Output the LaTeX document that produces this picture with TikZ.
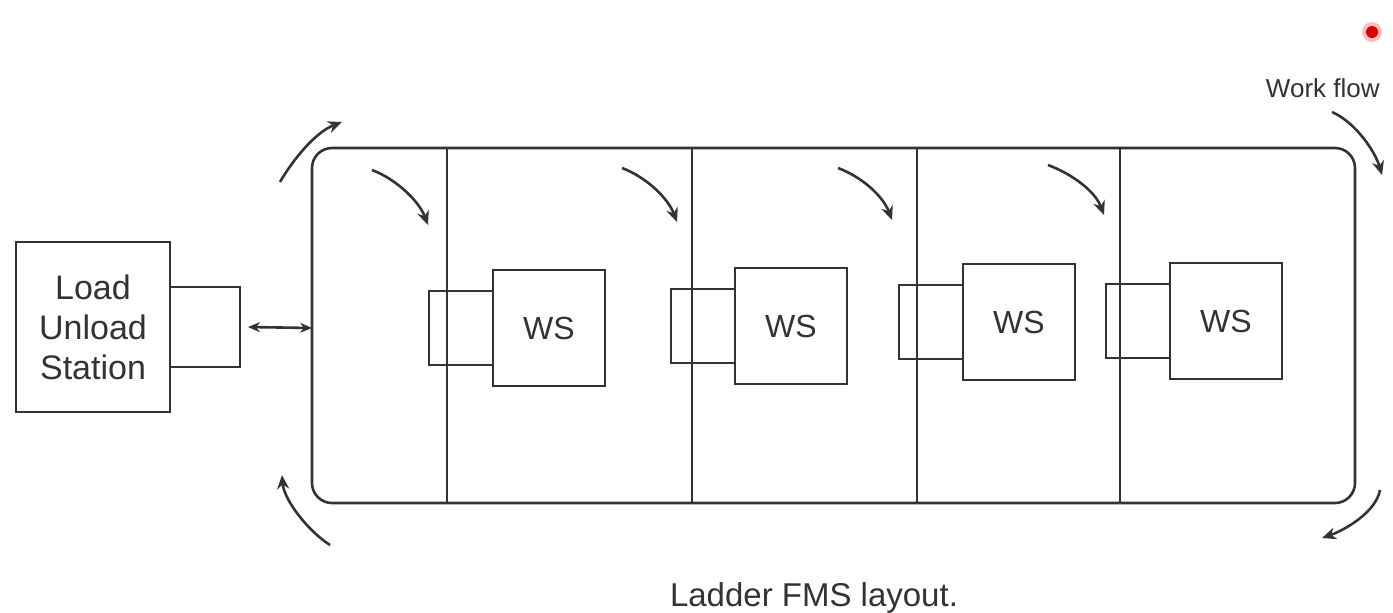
\documentclass[tikz,border=0pt]{standalone}
\usepackage{fontspec}
\setmainfont{Liberation Sans}
\usetikzlibrary{positioning, arrows.meta}

\tikzset{
	box/.style={draw, outer sep=0pt, inner sep=0pt},
	wsbox/.style={box, minimum width=56pt, minimum height=58pt, font=\fontsize{16}{18}\selectfont},
	portbox/.style={box, minimum width=32pt, minimum height=37pt},
	flow/.style={-{Stealth[length=7pt,width=6pt]}}
}

\begin{document}
\begin{tikzpicture}[x=0.5pt, y=-0.5pt, line width=1.3pt, color=black!80]
				\useasboundingbox (0,0) rectangle (1393,612);
				% ladder rails
				\draw[rounded corners=10pt] (312,148) rectangle (1355,503);
				\foreach \x in {447,692,917,1120}
					\draw (\x,148) -- (\x,503);
				% load / unload station
				\node[box, minimum width=77pt, minimum height=85pt, align=center,
					font=\fontsize{17}{20}\selectfont] (lus) at (93,327) {Load\\Unload\\Station};
				\node[box, minimum width=35pt, minimum height=40pt, right=0pt of lus] (lport) {};
				\coordinate (railL) at (312,328);
				\draw[{Stealth[length=6pt,width=5pt]}-{Stealth[length=6pt,width=5pt]}] ([xshift=4pt]lport.east) -- (railL);
				% work stations
				\foreach \x/\y [count=\i] in {549/328, 791/326, 1019/322, 1226/321} {
					\node[wsbox] (ws\i) at (\x,\y) {WS};
					\node[portbox, left=0pt of ws\i] (p\i) {};
				}
				% flow into the rungs
				\draw[flow] (372,170) .. controls (396,179) and (419,201) .. (428,225);
				\draw[flow] (622,168) .. controls (646,177) and (668,198) .. (677,222);
				\draw[flow] (838,168) .. controls (862,177) and (883,196) .. (892,220);
				\draw[flow] (1048,165) .. controls (1072,174) and (1095,191) .. (1104,215);
				% flow round the loop
				\draw[flow] (280,182) .. controls (294,158) and (316,132) .. (342,122);
				\draw[flow] (1332,112) .. controls (1355,122) and (1375,151) .. (1382,175);
				\draw[flow] (1380,490) .. controls (1376,512) and (1345,530) .. (1322,538);
				\draw[flow] (330,545) .. controls (308,531) and (284,500) .. (282,475);
				% labels
				\node[anchor=west, font=\fontsize{13}{15}\selectfont] (wf) at (1258,88) {Work flow};
				\node[font=\fontsize{16.5}{20}\selectfont] (cap) at (814,598) {Ladder FMS layout.};
				\fill[red!25] (1372,32) circle (5pt);
				\fill[red!85!black] (1372,32) circle (3pt);
			\end{tikzpicture}
\end{document}
